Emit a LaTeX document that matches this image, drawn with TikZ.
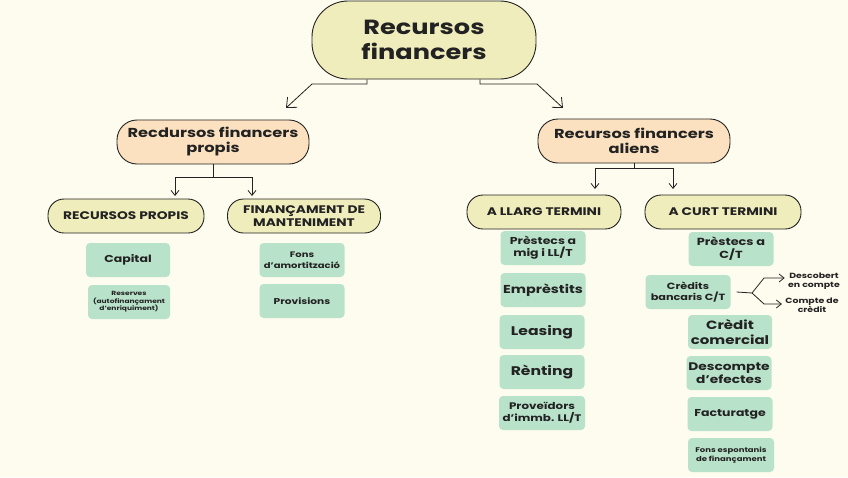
\documentclass[tikz,border=0pt]{standalone}
\usepackage{fontspec}
\setmainfont{Poppins}[FakeStretch=1.25]
\usetikzlibrary{arrows.meta}
\definecolor{bgcol}{HTML}{FEFCEE}
\definecolor{yelcol}{HTML}{F0EDBC}
\definecolor{peachcol}{HTML}{FCE1C0}
\definecolor{greencol}{HTML}{B9E2CA}
\definecolor{inkcol}{HTML}{222222}
\tikzset{
  pill/.style={draw=inkcol,line width=0.9pt,align=center,text=inkcol,font=\bfseries},
  toppill/.style={pill,fill=yelcol,minimum width=224pt,minimum height=78pt,rounded corners=36pt},
  midpill/.style={pill,fill=peachcol,minimum width=192pt,minimum height=44pt,rounded corners=20pt,font=\bfseries\fontsize{13}{15}\selectfont},
  lowpill/.style={pill,fill=yelcol,minimum width=155pt,minimum height=34pt,rounded corners=16pt,font=\bfseries\fontsize{11}{12.5}\selectfont},
  leaf/.style={fill=greencol,rounded corners=4pt,minimum width=85pt,minimum height=34pt,align=center,text=inkcol,inner sep=1pt,font=\bfseries\fontsize{10}{12}\selectfont},
  link/.style={draw=inkcol,line width=0.8pt},
  arr/.style={link,-{Straight Barb[length=5pt,width=8pt]}},
  bigarr/.style={link,-{Straight Barb[length=8pt,width=14pt]}}
}
\begin{document}
\begin{tikzpicture}[x=1pt,y=-1pt]
  \fill[bgcol] (0,0) rectangle (848,477);
  \useasboundingbox (0,0) rectangle (848,477);

  % top level
  \node[toppill,font=\bfseries\fontsize{20.5}{25}\selectfont] (top) at (424,40) {Recursos\\financers};

  % second level
  \node[midpill] (propis) at (213,142) {Recdursos financers\\propis};
  \node[midpill] (aliens) at (634,141) {Recursos financers\\aliens};

  % third level
  \node[lowpill,minimum width=156pt] (rp) at (126,216) {RECURSOS PROPIS};
  \node[lowpill,minimum width=153pt] (fm) at (304,216) {FINANÇAMENT DE\\MANTENIMENT};
  \node[lowpill,minimum width=154pt] (llarg) at (544,212) {A LLARG TERMINI};
  \node[lowpill,minimum width=156pt] (curt) at (723,212) {A CURT TERMINI};

  % recursos propis
  \node[leaf,minimum width=84pt] (capital) at (128,260) {Capital};
  \node[leaf,minimum width=82pt,font=\bfseries\fontsize{6}{7.5}\selectfont] (reserves) at (129,302) {Reserves\\(autofinançament\\d'enriquiment)};

  % manteniment
  \node[leaf,font=\bfseries\fontsize{8}{10.5}\selectfont] (fons) at (302,260) {Fons\\d'amortització};
  \node[leaf,font=\bfseries\fontsize{8.5}{10}\selectfont] (provisions) at (302,301) {Provisions};

  % llarg termini
  \node[leaf,font=\bfseries\fontsize{10}{12}\selectfont] (pmig) at (543,248) {Prèstecs a\\mig i LL/T};
  \node[leaf,font=\bfseries\fontsize{11.5}{13}\selectfont] (empr) at (543,290) {Emprèstits};
  \node[leaf,font=\bfseries\fontsize{12.5}{15}\selectfont] (leasing) at (542,332) {Leasing};
  \node[leaf,font=\bfseries\fontsize{12.5}{15}\selectfont] (renting) at (542,372) {Rènting};
  \node[leaf,minimum width=86pt,font=\bfseries\fontsize{9.5}{12}\selectfont] (prov) at (542,413) {Proveïdors\\d'immb. LL/T};

  % curt termini
  \node[leaf,font=\bfseries\fontsize{10.3}{13}\selectfont] (pct) at (731,249) {Prèstecs a\\C/T};
  \node[leaf,font=\bfseries\fontsize{9}{11.5}\selectfont] (cb) at (688,292) {Crèdits\\bancaris C/T};
  \node[leaf,minimum width=84pt,font=\bfseries\fontsize{12}{14.5}\selectfont] (ccom) at (730,332) {Crèdit\\comercial};
  \node[leaf,font=\bfseries\fontsize{11}{13.5}\selectfont] (desc) at (729,373) {Descompte\\d'efectes};
  \node[leaf,font=\bfseries\fontsize{10}{12}\selectfont] (fact) at (730,414) {Facturatge};
  \node[leaf,minimum width=86pt,font=\bfseries\fontsize{6.8}{9}\selectfont] (fesp) at (731,455) {Fons espontanis\\de finançament};

  % labels of the split
  \node[align=center,text=inkcol,font=\bfseries\fontsize{7.5}{9}\selectfont] (dcomp) at (814,281) {Descobert\\en compte};
  \node[align=center,text=inkcol,font=\bfseries\fontsize{7.5}{9}\selectfont] (ccred) at (812,305) {Compte de\\crèdit};

  % connectors from the top
  \coordinate (tl) at (367,84);
  \coordinate (tlb) at (312,84);
  \coordinate (tle) at (286,108);
  \coordinate (tr) at (480,84);
  \coordinate (trb) at (537,84);
  \coordinate (tre) at (563,108);
  \draw[bigarr] (top.south -| tl) -- (tl) -- (tlb) -- (tle);
  \draw[bigarr] (top.south -| tr) -- (tr) -- (trb) -- (tre);

  % second to third level
  \coordinate (pj) at (213,177);
  \coordinate (pa) at (175,196);
  \coordinate (pb) at (252,196);
  \draw[arr] (propis.south) -- (pj) -| (pa);
  \draw[arr] (pj) -| (pb);
  \coordinate (aj) at (634,168);
  \coordinate (aa) at (595,189);
  \coordinate (ab) at (673,189);
  \draw[arr] (aliens.south) -- (aj) -| (aa);
  \draw[arr] (aj) -| (ab);

  % split of the bank credits
  \coordinate (cj) at (752,293);
  \draw[link] ([xshift=6pt]cb.east) -- (cj);
  \draw[arr] (cj) -- (764,278) -- (dcomp.west |- 0,278);
  \draw[arr] (cj) -- (764,304) -- (ccred.west |- 0,304);
\end{tikzpicture}
\end{document}
